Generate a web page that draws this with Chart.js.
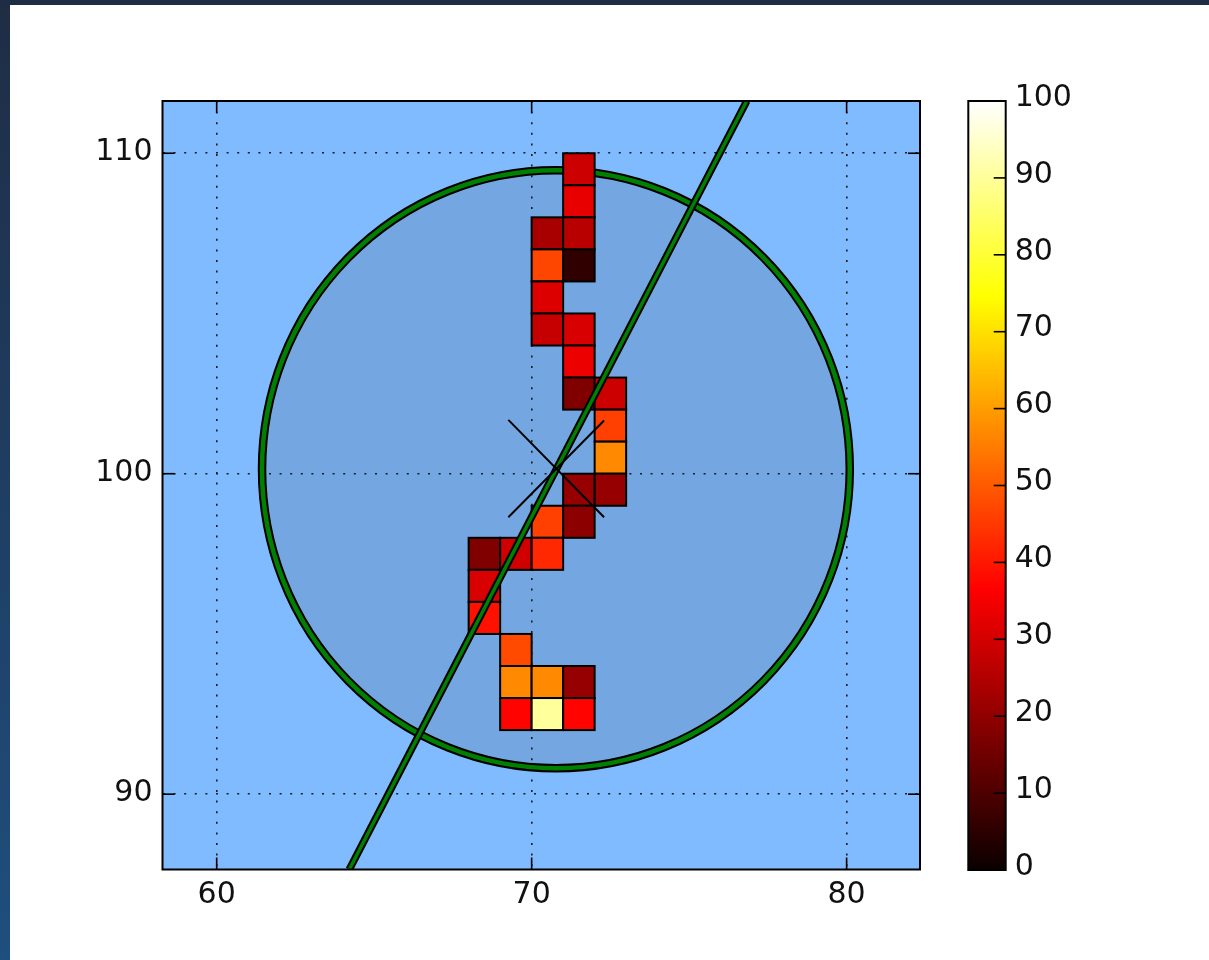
<!DOCTYPE html>
<html><head><meta charset="utf-8">
<script src="https://cdn.jsdelivr.net/npm/chart.js@4.4.1/dist/chart.umd.min.js"></script>
<style>
html,body{margin:0;padding:0;background:#fff;width:1209px;height:960px;overflow:hidden;}
#topbar{position:absolute;left:0;top:0;width:1209px;height:5px;background:#1f2d44;}
#leftbar{position:absolute;left:0;top:0;width:10px;height:960px;background:linear-gradient(#1f2d44,#1f3a5c 40%,#1f4f7e);}
#main{position:absolute;left:0;top:0;}
#cbar{position:absolute;left:940px;top:0;}
</style></head><body>
<div id="topbar"></div><div id="leftbar"></div>
<canvas id="main" width="1209" height="960"></canvas>
<canvas id="cbar" width="269" height="960"></canvas>
<script>
// ---------- data ----------
const xTicks = [60, 70, 80];
const yTicks = [90, 100, 110];
const cbTicks = [0, 10, 20, 30, 40, 50, 60, 70, 80, 90, 100];
const xRange = [58.28, 82.33];
const yRange = [87.65, 111.63];
const cbRange = [0, 100];

const cellX = [71, 71, 70, 71, 70, 71, 70, 70, 71, 71, 71, 72, 72, 72, 71, 72, 70, 71, 68, 69, 70, 68, 68, 69, 69, 70, 71, 69, 70, 71];
const cellY = [109, 108, 107, 107, 106, 106, 105, 104, 104, 103, 102, 102, 101, 100, 99, 99, 98, 98, 97, 97, 97, 96, 95, 94, 93, 93, 93, 92, 92, 92];
const cellValue = [29, 33, 23.5, 26, 47, 5.6, 31.5, 28, 30.7, 33.6, 17.5, 29, 46, 57, 21, 21, 46, 19.5, 17.5, 29.5, 42.5, 30.7, 39, 47.5, 57, 57, 21, 37, 90, 37];

const circleCenter = [70.77, 100.14];
const circleRadius = 9.33;

const lineX = [64.21, 76.83];
const lineY = [87.65, 111.63];
const crossAX = [69.26, 72.30];
const crossAY = [101.68, 98.64];
const crossBX = [69.26, 72.30];
const crossBY = [98.64, 101.66];

// ---------- helpers ----------
const HOT = [[0, [0.0416, 0, 0]], [0.365079, [1, 0, 0]], [0.746032, [1, 1, 0]], [1, [1, 1, 1]]];
function hot(v) {
  const t = Math.min(1, Math.max(0, (v - cbRange[0]) / (cbRange[1] - cbRange[0])));
  for (let i = 0; i < HOT.length - 1; i++) {
    const [t0, c0] = HOT[i], [t1, c1] = HOT[i + 1];
    if (t <= t1) {
      const f = (t - t0) / (t1 - t0);
      const c = c0.map((a, k) => Math.round((a + (c1[k] - a) * f) * 255));
      return `rgb(${c[0]},${c[1]},${c[2]})`;
    }
  }
  return 'rgb(255,255,255)';
}
const pts = (xs, ys) => xs.map((x, i) => ({x, y: ys[i]}));
const FONT = {family: 'DejaVu Sans', size: 30};
const TEXT = '#111';

const mainPlugin = {
  id: 'mainDecor',
  beforeDraw(chart) {
    const {ctx, chartArea: a, scales: {x, y}} = chart;
    ctx.save();
    ctx.fillStyle = '#80bbff';
    ctx.fillRect(a.left, a.top, a.right - a.left, a.bottom - a.top);
    ctx.beginPath();
    ctx.rect(a.left, a.top, a.right - a.left, a.bottom - a.top);
    ctx.clip();
    const cx = x.getPixelForValue(circleCenter[0]), cy = y.getPixelForValue(circleCenter[1]);
    const rx = Math.abs(x.getPixelForValue(circleCenter[0] + circleRadius) - cx);
    const ry = Math.abs(y.getPixelForValue(circleCenter[1] + circleRadius) - cy);
    ctx.beginPath();
    ctx.ellipse(cx, cy, rx, ry, 0, 0, Math.PI * 2);
    ctx.fillStyle = '#74a7e1';
    ctx.fill();
    ctx.restore();
  },
  beforeDatasetsDraw(chart) {
    const {ctx, chartArea: a, scales: {x, y}} = chart;
    ctx.save();
    ctx.beginPath();
    ctx.rect(a.left, a.top, a.right - a.left, a.bottom - a.top);
    ctx.clip();
    const cx = x.getPixelForValue(circleCenter[0]), cy = y.getPixelForValue(circleCenter[1]);
    const rx = Math.abs(x.getPixelForValue(circleCenter[0] + circleRadius) - cx);
    const ry = Math.abs(y.getPixelForValue(circleCenter[1] + circleRadius) - cy);
    ctx.beginPath();
    ctx.ellipse(cx, cy, rx, ry, 0, 0, Math.PI * 2);
    ctx.strokeStyle = '#000'; ctx.lineWidth = 8.5; ctx.stroke();
    ctx.strokeStyle = '#007f00'; ctx.lineWidth = 4.5; ctx.stroke();
    ctx.lineWidth = 2; ctx.strokeStyle = '#000'; ctx.lineJoin = 'miter';
    for (let i = 0; i < cellX.length; i++) {
      const x0 = x.getPixelForValue(cellX[i]), x1 = x.getPixelForValue(cellX[i] + 1);
      const y0 = y.getPixelForValue(cellY[i] + 1), y1 = y.getPixelForValue(cellY[i]);
      ctx.fillStyle = hot(cellValue[i]);
      ctx.fillRect(x0, y0, x1 - x0, y1 - y0);
      ctx.strokeRect(x0, y0, x1 - x0, y1 - y0);
    }
    ctx.restore();
  },
  afterDraw(chart) {
    const {ctx, chartArea: a, scales: {x, y}} = chart;
    ctx.save();
    ctx.strokeStyle = '#000';
    ctx.lineWidth = 1.6;
    const seg = (x0, y0, x1, y1) => { ctx.beginPath(); ctx.moveTo(x0, y0); ctx.lineTo(x1, y1); ctx.stroke(); };
    x.ticks.forEach(t => { const p = x.getPixelForValue(t.value); seg(p, a.bottom, p, a.bottom - 12); seg(p, a.top, p, a.top + 12); });
    y.ticks.forEach(t => { const p = y.getPixelForValue(t.value); seg(a.left, p, a.left + 12, p); seg(a.right, p, a.right - 12, p); });
    ctx.lineWidth = 2;
    ctx.strokeRect(a.left, a.top, a.right - a.left, a.bottom - a.top);
    ctx.restore();
  }
};

new Chart(document.getElementById('main'), {
  type: 'scatter',
  data: {
    datasets: [
      {data: pts(lineX, lineY), showLine: true, borderColor: '#000', borderWidth: 7.5, pointRadius: 0, clip: 0, order: 3},
      {data: pts(lineX, lineY), showLine: true, borderColor: '#007f00', borderWidth: 3.5, pointRadius: 0, clip: 0, order: 2},
      {data: pts(crossAX, crossAY), showLine: true, borderColor: '#000', borderWidth: 2, pointRadius: 0, order: 1},
      {data: pts(crossBX, crossBY), showLine: true, borderColor: '#000', borderWidth: 2, pointRadius: 0, order: 0}
    ]
  },
  options: {
    responsive: false, animation: false, events: [],
    plugins: {legend: {display: false}, tooltip: {enabled: false}},
    layout: {padding: {left: 42.5, top: 101, right: 289, bottom: 30.5}},
    scales: {
      x: {
        type: 'linear', min: xRange[0], max: xRange[1],
        afterBuildTicks: s => { s.ticks = xTicks.map(v => ({value: v})); },
        afterFit: s => { s.height = 60; },
        grid: {color: '#1a1a1a', lineWidth: 1.6, drawTicks: false},
        border: {display: false, dash: [2, 8.6]},
        ticks: {font: FONT, color: TEXT, padding: 8, maxRotation: 0}
      },
      y: {
        type: 'linear', min: yRange[0], max: yRange[1],
        afterBuildTicks: s => { s.ticks = yTicks.map(v => ({value: v})); },
        afterFit: s => { s.width = 120; },
        grid: {color: '#1a1a1a', lineWidth: 1.6, drawTicks: false},
        border: {display: false, dash: [2, 8.6]},
        ticks: {font: FONT, color: TEXT, padding: 10, labelOffset: -1}
      }
    }
  },
  plugins: [mainPlugin]
});

const cbPlugin = {
  id: 'cbDecor',
  afterDraw(chart) {
    const {ctx, chartArea: a, scales: {y}} = chart;
    ctx.save();
    ctx.strokeStyle = '#000';
    ctx.lineWidth = 1.6;
    y.ticks.forEach(t => {
      const p = y.getPixelForValue(t.value);
      ctx.beginPath(); ctx.moveTo(a.right, p); ctx.lineTo(a.right - 12, p); ctx.stroke();
    });
    ctx.lineWidth = 2;
    ctx.strokeRect(a.left, a.top, a.right - a.left, a.bottom - a.top);
    ctx.restore();
  }
};

new Chart(document.getElementById('cbar'), {
  type: 'bar',
  data: {
    labels: [''],
    datasets: [{
      data: [cbRange[1]],
      barPercentage: 1, categoryPercentage: 1, borderWidth: 0,
      backgroundColor: c => {
        const ch = c.chart;
        if (!ch.chartArea) return '#000';
        const ys = ch.scales.y;
        const g = ch.ctx.createLinearGradient(0, ys.getPixelForValue(cbRange[0]), 0, ys.getPixelForValue(cbRange[1]));
        HOT.forEach(([t]) => g.addColorStop(t, hot(cbRange[0] + t * (cbRange[1] - cbRange[0]))));
        return g;
      }
    }]
  },
  options: {
    responsive: false, animation: false, events: [],
    plugins: {legend: {display: false}, tooltip: {enabled: false}},
    layout: {padding: {left: 28.3, top: 101, right: 83.3, bottom: 90}},
    scales: {
      x: {display: false},
      y: {
        position: 'right', min: cbRange[0], max: cbRange[1],
        afterBuildTicks: s => { s.ticks = cbTicks.map(v => ({value: v})); },
        afterFit: s => { s.width = 120; },
        grid: {display: false, drawTicks: false},
        border: {display: false},
        ticks: {font: FONT, color: TEXT, padding: 9, labelOffset: -3}
      }
    }
  },
  plugins: [cbPlugin]
});
</script>
</body></html>
